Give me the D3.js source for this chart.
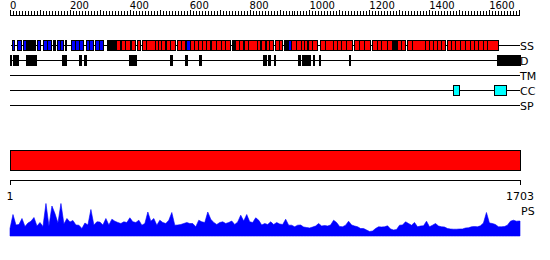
<!DOCTYPE html>
<html>
<head>
<meta charset="utf-8">
<script src="https://cdn.jsdelivr.net/npm/d3@7"></script>
<style>
  body { margin: 0; background: #fff; }
  svg { display: block; }
  text { font-family: "DejaVu Sans", sans-serif; fill: #000; }
</style>
</head>
<body>
<div id="chart"></div>
<script>
// sequence length and ruler
const seqLength = 1703
const rulerLabels = [0, 200, 400, 600, 800, 1000, 1200, 1400, 1600]

// secondary structure (residue ranges)
const helixSegs = [
  [356,367],[371,384],[384,401],[404,417],[424,434],[440,454],[454,484],[484,494],[494,504],[504,518],
  [523,534],[534,551],[557,571],[571,584],[601,614],[614,628],[628,641],[641,654],[654,668],
  [673,688],[688,705],[705,718],[718,735],[751,765],[765,778],[782,795],[795,825],[825,835],
  [840,851],[855,865],[865,879],[885,898],[898,909],[938,955],[955,972],[972,982],[982,991],
  [996,1008],[1008,1024],[1035,1052],[1052,1079],[1079,1092],[1092,1105],[1105,1122],[1122,1143],
  [1150,1165],[1165,1182],[1182,1202],[1208,1225],[1225,1240],[1240,1258],[1258,1275],
  [1292,1305],[1305,1319],[1325,1342],[1342,1386],[1386,1399],[1399,1412],[1412,1426],[1426,1439],
  [1439,1452],[1458,1472],[1472,1486],[1486,1503],[1503,1519],[1519,1536],[1536,1549],[1549,1563],
  [1563,1579],[1579,1593],[1593,1630]
]
const strandSegs = [
  [8,13],[24,39],[44,56],[91,100],[110,125],[125,139],[158,167],[167,178],[204,217],
  [219,232],[232,245],[254,265],[265,278],[284,297],[297,312],[590,601],[929,938]
]
const otherSegs = [
  [59,74],[78,84],[145,150],[184,189],[325,356],[741,748],[915,924],[1275,1292],[1653,1654]
]

// disorder
const disorderSegs = [
  [1,6],[11,17],[22,28],[56,89],[147,148],[176,189],[197,198],[230,239],[247,256],[317,318],
  [354,355],[380,381],[397,404],[409,414],[417,423],[534,540],[551,552],[584,593],[601,602],
  [631,637],[685,686],[846,857],[862,870],[883,884],[962,968],[974,983],[987,1002],[1013,1014],
  [1033,1034],[1076,1077],[1133,1134],[1519,1520],[1528,1530],[1626,1703]
]

// coiled coil
const coilSegs = [[1479,1501],[1615,1656]]

const trackNames = ["SS", "D", "TM", "CC", "SP"]

// PS profile, one value every 10 residues (1, 11, 21, ...)
const psValues = [
  7.5,21.5,11,11.5,17.5,9.5,13,14.8,18.5,10,13.5,9.5,32.5,10,30,22.5,13,32.5,12,17.5,
  14,15.5,11,10.8,7.5,13,11,26.5,11,14.2,14,11,17.5,11,16.8,14.8,13.5,12.5,14.2,13.5,
  18.2,14.2,13.5,15.8,10.8,12.5,24,14.8,17.5,10.8,15.8,13.5,12.5,15.8,23.5,10.8,11,11.5,12.5,13.5,
  12.5,12.5,9.2,15.8,14.2,13.5,24,16.8,13.5,11.5,13.5,14.2,12.5,13.5,15,11.5,14,20.8,15,21.5,
  14.2,13.5,18.2,15.8,11,12.5,11.5,14.2,11.5,13.5,12,11.5,16.8,10.8,10.8,9.2,10.8,11,9,8.5,
  8,9,10,12.5,10,10.5,10,11,15.8,13.5,9.5,9.2,10.8,14.8,11,10,9.2,7.5,7.5,6,
  4.5,5,7.5,9.2,9,9.2,10.2,7,6,6.5,10.8,11,14.2,12.5,10.8,13.5,9.2,10,10.2,14.8,
  9.2,10.8,12.5,10,9.2,9,7.5,7,6.8,6.8,7,7,8,8.2,9.2,9.5,9.2,10.2,13,23.5,
  13,12.5,11.5,9.2,9.2,9.5,10.8,14.8,15.8,14.8,15
]

const width = 550
const height = 260
const svg = d3.select("#chart").append("svg")
    .attr("width", width).attr("height", height)
    .attr("shape-rendering", "crispEdges")

const x = d3.scaleLinear().domain([1, seqLength]).range([10, 520])
const x0 = d3.scaleLinear().domain([0, seqLength]).range([10, 520])
const trackY = d3.scalePoint().domain(trackNames).range([45.5, 105.5])

// top ruler
const ruler = svg.append("g")
ruler.append("line")
    .attr("x1", x0(0)).attr("x2", x0(1700)).attr("y1", 15.5).attr("y2", 15.5)
    .attr("stroke", "#000")
ruler.selectAll(".tick")
    .data(d3.range(0, 1701, 10))
    .join("line")
    .attr("x1", d => Math.round(x0(d)) + 0.5).attr("x2", d => Math.round(x0(d)) + 0.5)
    .attr("y1", d => d % 100 === 0 ? 10 : 11).attr("y2", 15.5)
    .attr("stroke", "#000")
ruler.selectAll("text")
    .data(rulerLabels)
    .join("text")
    .attr("x", d => x0(d))
    .attr("y", 9)
    .style("font-size", "10px")
    .text(d => d)

// track lines and labels
const tracks = svg.append("g")
tracks.selectAll("line")
    .data(trackNames)
    .join("line")
    .attr("x1", d => d === "SS" ? 11 : 10).attr("x2", 520)
    .attr("y1", d => trackY(d)).attr("y2", d => trackY(d))
    .attr("stroke", "#000")
tracks.selectAll("text")
    .data(trackNames)
    .join("text")
    .attr("x", 520)
    .attr("y", d => trackY(d) + 4.5)
    .style("font-size", "11px")
    .text(d => d)

function drawSegs(segs, track, fill) {
  svg.append("g").selectAll("rect")
    .data(segs)
    .join("rect")
    .attr("x", d => Math.round(x(d[0])) + 0.5)
    .attr("width", d => Math.max(0, Math.round(x(d[1])) - Math.round(x(d[0]))))
    .attr("y", trackY(track) - 5)
    .attr("height", 10)
    .attr("fill", fill)
    .attr("stroke", "#000")
}
drawSegs(otherSegs, "SS", "#000")
drawSegs(strandSegs, "SS", "#0000ff")
drawSegs(helixSegs, "SS", "#ff0000")
drawSegs(disorderSegs, "D", "#000")
drawSegs(coilSegs, "CC", "#00ffff")

// red domain bar
svg.append("rect")
    .attr("x", x(1) + 0.5).attr("width", x(seqLength) - x(1))
    .attr("y", 150.5).attr("height", 20)
    .attr("fill", "#ff0000").attr("stroke", "#000")

// bottom ruler
const bottom = svg.append("g")
bottom.append("line")
    .attr("x1", x(1)).attr("x2", x(seqLength) + 1).attr("y1", 180.5).attr("y2", 180.5)
    .attr("stroke", "#000")
bottom.selectAll(".end")
    .data([1, seqLength])
    .join("line")
    .attr("x1", d => x(d) + 0.5).attr("x2", d => x(d) + 0.5)
    .attr("y1", 180.5).attr("y2", 185)
    .attr("stroke", "#000")
bottom.selectAll("text")
    .data([1, seqLength])
    .join("text")
    .attr("x", d => x(d))
    .attr("y", 200)
    .attr("text-anchor", "middle")
    .style("font-size", "11px")
    .text(d => d)

// PS profile
const yPS = d3.scaleLinear().domain([0, 33]).range([236, 203])
const psData = psValues.map((v, i) => ({res: 1 + i * 10, v: v}))
psData.push({res: seqLength, v: psValues[psValues.length - 1]})
svg.append("path")
    .datum(psData)
    .attr("fill", "#0000ff")
    .attr("stroke", "#0000ff")
    .attr("stroke-width", 0.6)
    .attr("shape-rendering", "auto")
    .attr("d", d3.area().x(d => x(d.res)).y0(yPS(0)).y1(d => yPS(d.v)))
svg.append("text")
    .attr("x", 521).attr("y", 215)
    .style("font-size", "11px")
    .text("PS")
</script>
</body>
</html>
